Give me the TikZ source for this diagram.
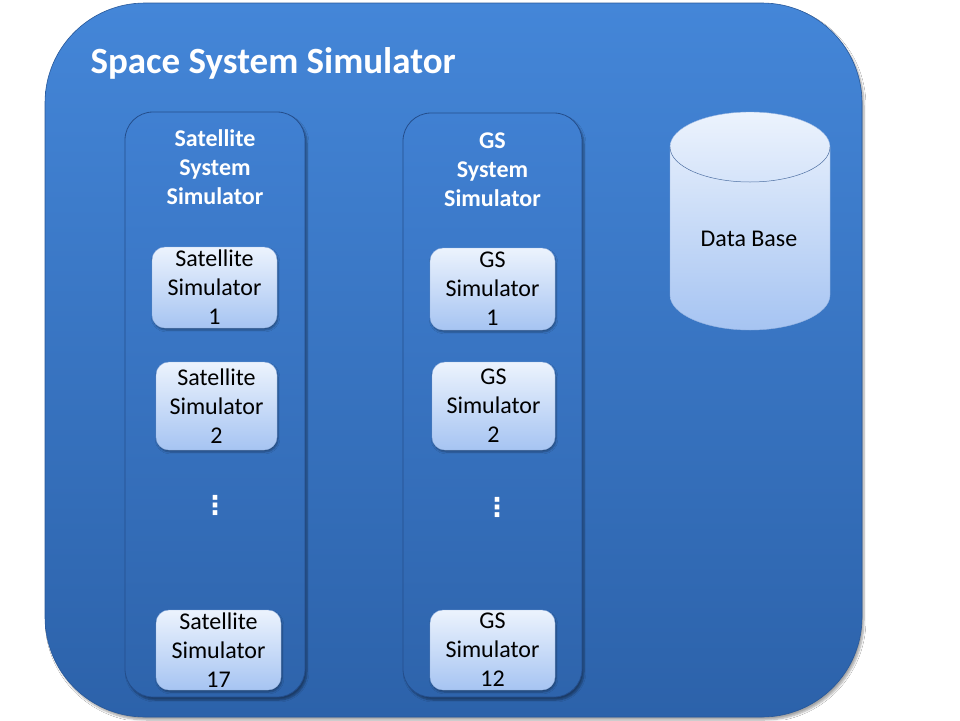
\documentclass[tikz,border=0pt]{standalone}
\usepackage{fontspec}
\setmainfont{Carlito}
\newfontfamily\dejavu{DejaVu Sans}
\usetikzlibrary{shadows.blur}
\definecolor{outertop}{RGB}{68,134,216}
\definecolor{outerbot}{RGB}{44,98,170}
\definecolor{conttop}{RGB}{64,128,210}
\definecolor{contbot}{RGB}{46,100,172}
\definecolor{contline}{RGB}{36,78,140}
\definecolor{boxtop}{RGB}{236,243,253}
\definecolor{boxbot}{RGB}{166,196,242}
\definecolor{boxline}{RGB}{150,180,225}
\begin{document}
\begin{tikzpicture}[x=1pt,y=-1pt,
  outerbox/.style={rounded corners=100pt,top color=outertop,bottom color=outerbot,
    draw=outerbot!90!black,line width=0.6pt,
    blur shadow={shadow xshift=2pt,shadow yshift=-3pt,shadow blur steps=6,shadow opacity=35}},
  contbox/.style={rounded corners=28pt,top color=conttop,bottom color=contbot,
    draw=contline,line width=0.8pt,
    blur shadow={shadow xshift=2pt,shadow yshift=-3pt,shadow blur steps=5,shadow opacity=40}},
  simbox/.style={rounded corners=13pt,top color=boxtop,bottom color=boxbot,
    draw=boxline,line width=0.4pt,align=center,
    font=\fontsize{24}{29}\selectfont,text=black,inner sep=0pt,
    blur shadow={shadow xshift=1pt,shadow yshift=-2pt,shadow blur steps=4,shadow opacity=35}},
  headtxt/.style={align=center,text=white,font=\fontsize{24}{29}\selectfont\bfseries},
  dotstxt/.style={text=white,inner sep=0pt,font=\dejavu\bfseries\fontsize{26}{26}\selectfont},
]
\useasboundingbox (0,0) rectangle (960,720);
\fill[white] (0,0) rectangle (960,720);

% outer system
\node[outerbox,minimum width=817pt,minimum height=714pt] (outer) at (453.5,360) {};
\node[anchor=west,text=white,font=\fontsize{37}{44}\selectfont\bfseries] (title) at (87,63) {Space System Simulator};

% containers
\node[contbox,minimum width=180pt,minimum height=585pt] (satsys) at (215,404.5) {};
\node[contbox,minimum width=179pt,minimum height=584pt] (gssys) at (492.5,405) {};
\node[headtxt] (sathead) at (215,167) {Satellite\\System\\Simulator};
\node[headtxt] (gshead) at (492.5,170) {GS\\System\\Simulator};

% satellite simulators
\node[simbox,minimum width=125pt,minimum height=81pt] (s1) at (214.5,287.5) {Satellite\\Simulator\\1};
\node[simbox,minimum width=121pt,minimum height=88pt] (s2) at (216.5,406) {Satellite\\Simulator\\2};
\node[dotstxt] (sdots) at (215,505) {⋮};
\node[simbox,minimum width=125pt,minimum height=80pt] (s17) at (218.5,650) {Satellite\\Simulator\\17};

% GS simulators
\node[simbox,minimum width=125pt,minimum height=82pt] (g1) at (492.5,289) {GS\\Simulator\\1};
\node[simbox,minimum width=123pt,minimum height=88pt] (g2) at (493.5,406) {GS\\Simulator\\2};
\node[dotstxt] (gdots) at (497,507) {⋮};
\node[simbox,minimum width=125pt,minimum height=80pt] (g12) at (492.5,650) {GS\\Simulator\\12};

% data base cylinder
\shade[top color=boxtop,bottom color=boxbot,draw=boxline,line width=0.4pt]
  (670,147) -- (670,295) arc[start angle=180,end angle=360,x radius=80pt,y radius=35pt]
  -- (830,147) arc[start angle=0,end angle=180,x radius=80pt,y radius=35pt] -- cycle;
\draw[draw=contline!80,line width=0.5pt] (670,147) arc[start angle=180,end angle=360,x radius=80pt,y radius=35pt];
\node[text=black,font=\fontsize{24}{29}\selectfont] (db) at (749,239) {Data Base};
\end{tikzpicture}
\end{document}
